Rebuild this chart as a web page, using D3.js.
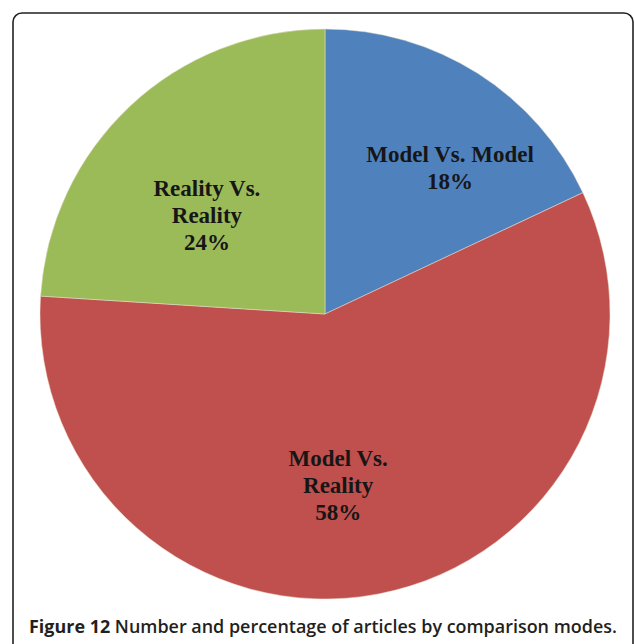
<!DOCTYPE html>
<html>
<head>
<meta charset="utf-8">
<script src="https://cdnjs.cloudflare.com/ajax/libs/d3/7.8.5/d3.min.js"></script>
<style>
  body { margin: 0; background: white; }
  svg { display: block; }
</style>
</head>
<body>
<div id="chart"></div>
<script>

var width = 634,
    height = 644;

// comparison modes and their share of articles (percent)
var categories = ["Model Vs. Model", "Model Vs. Reality", "Reality Vs. Reality"];
var shares = [18, 58, 24];
var labelLines = [["Model Vs. Model", "18%"], ["Model Vs.", "Reality", "58%"], ["Reality Vs.", "Reality", "24%"]];
var colors = ["#4f81bd", "#c0504d", "#9bbb59"];

var cx = 325, cy = 314, radius = 285;

var svg = d3.select("#chart")
    .append("svg")
    .attr("width", width)
    .attr("height", height);

svg.append("rect")
    .attr("width", "100%")
    .attr("height", "100%")
    .attr("fill", "white");

// figure frame
svg.append("rect")
    .attr("x", 13)
    .attr("y", 13)
    .attr("width", 620)
    .attr("height", 660)
    .attr("rx", 9)
    .attr("fill", "none")
    .attr("stroke", "#222")
    .attr("stroke-width", 1.6);

var data = categories.map(function(c, i) {
    return { name: c, value: shares[i], lines: labelLines[i] };
});

var pie = d3.pie()
    .sort(null)
    .value(function(d) { return d.value; });

var arc = d3.arc()
    .innerRadius(0)
    .outerRadius(radius);

var color = d3.scaleOrdinal()
    .domain(categories)
    .range(colors);

var g = svg.append("g")
    .attr("transform", "translate(" + cx + "," + cy + ")");

var arcs = pie(data);

g.selectAll("path")
    .data(arcs)
    .enter().append("path")
    .attr("d", arc)
    .attr("fill", function(d) { return color(d.data.name); })
    .attr("stroke", "#e8e0d0")
    .attr("stroke-width", 0.5);

// label anchors: fraction of radius and angle nudge (degrees) off each slice's middle
var labelRadius = [0.656, 0.63, 0.523];
var labelTurn = [9.6, 6.6, -9.2];
var lineGap = 27;

var labels = g.selectAll("text.slice")
    .data(arcs)
    .enter().append("text")
    .attr("class", "slice")
    .attr("text-anchor", "middle")
    .style("font-family", "'Liberation Serif', 'Times New Roman', serif")
    .style("font-weight", "bold")
    .style("font-size", "23px")
    .style("fill", "#161616")
    .attr("transform", function(d, i) {
        var a = (d.startAngle + d.endAngle) / 2 + labelTurn[i] * Math.PI / 180;
        var r = radius * labelRadius[i];
        var n = d.data.lines.length;
        var x = Math.sin(a) * r;
        var y = -Math.cos(a) * r - (n - 1) * lineGap / 2;
        return "translate(" + x + "," + y + ")";
    });

labels.selectAll("tspan")
    .data(function(d) { return d.data.lines; })
    .enter().append("tspan")
    .attr("x", 0)
    .attr("dy", function(d, i) { return i === 0 ? 0 : lineGap; })
    .text(function(d) { return d; });

// caption
var caption = svg.append("text")
    .attr("x", 29)
    .attr("y", 633)
    .style("font-family", "'Open Sans', sans-serif")
    .style("font-size", "18px")
    .style("fill", "#231f20");

caption.append("tspan")
    .style("font-weight", 700)
    .text("Figure 12");

caption.append("tspan")
    .style("font-weight", 600)
    .text(" Number and percentage of articles by comparison modes.");

// squeeze the caption into the same span as the original
var captionWidth = caption.node().getComputedTextLength();
if (captionWidth > 588) {
    caption.style("font-size", (18 * 588 / captionWidth).toFixed(2) + "px");
}

</script>
</body>
</html>
